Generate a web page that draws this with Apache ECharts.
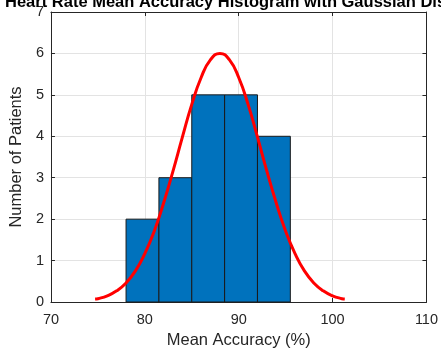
<!DOCTYPE html>
<html><head><meta charset="utf-8">
<script src="https://cdn.jsdelivr.net/npm/echarts@6/dist/echarts.min.js"></script>
<style>html,body{margin:0;padding:0;background:#fff}#c{width:441px;height:354px}</style>
</head><body><div id="c"></div>
<script>
// Histogram bins (edges) and counts
var binEdges = [78.0, 81.5, 85.0, 88.5, 92.0, 95.5];
var binCounts = [2, 3, 5, 5, 4];
// Gaussian fit curve
var curveX = [74.7, 75, 76, 77, 78, 79, 80, 81, 82, 83, 84, 85, 86, 87, 88, 89, 90, 91, 92, 93, 94, 95, 96, 97, 98, 99, 100, 101, 101.3];
var curveY = [0.07, 0.08, 0.15, 0.27, 0.46, 0.75, 1.17, 1.71, 2.39, 3.16, 3.98, 4.77, 5.42, 5.85, 6.0, 5.85, 5.42, 4.77, 3.98, 3.16, 2.39, 1.71, 1.17, 0.75, 0.46, 0.27, 0.15, 0.08, 0.07];
var xTicks = [70, 80, 90, 100, 110];
var yTicks = [0, 1, 2, 3, 4, 5, 6, 7];
var titleText = 'Heart Rate Mean Accuracy Histogram with Gaussian Distribution';
var xName = 'Mean Accuracy (%)';
var yName = 'Number of Patients';

var barData = binCounts.map(function (c, i) { return [binEdges[i], binEdges[i + 1], c]; });
var lineData = curveX.map(function (x, i) { return [x, curveY[i]]; });

var axisCol = '#262626';
var ff = 'Arial, Liberation Sans';
var chart = echarts.init(document.getElementById('c'));
chart.setOption({
  animation: false,
  title: { text: titleText, left: 254, top: -11, textAlign: 'center',
    textStyle: { fontFamily: ff, fontWeight: 'bold', fontSize: 16.5, color: '#000' } },
  grid: { left: 50, right: 10, top: 12, bottom: 52 },
  xAxis: [{
    type: 'value', min: xTicks[0], max: xTicks[xTicks.length - 1], interval: 10,
    name: xName, nameLocation: 'middle', nameGap: 29,
    nameTextStyle: { fontFamily: ff, fontSize: 16.5, color: axisCol },
    axisLine: { show: true, onZero: false, lineStyle: { color: axisCol, width: 1 } },
    axisTick: { show: true, inside: true, length: 4, lineStyle: { color: axisCol } },
    axisLabel: { margin: 10, fontFamily: ff, fontSize: 14.5, color: axisCol },
    splitLine: { show: true, lineStyle: { color: '#e3e3e3', width: 1 } }
  }, {
    type: 'value', position: 'top', min: xTicks[0], max: xTicks[xTicks.length - 1], interval: 10,
    axisLine: { show: true, onZero: false, lineStyle: { color: axisCol, width: 1 } },
    axisTick: { show: true, inside: true, length: 4, lineStyle: { color: axisCol } },
    axisLabel: { show: false }, splitLine: { show: false }
  }],
  yAxis: [{
    type: 'value', min: yTicks[0], max: yTicks[yTicks.length - 1], interval: 1,
    name: yName, nameLocation: 'middle', nameGap: 18,
    nameTextStyle: { fontFamily: ff, fontSize: 16.5, color: axisCol },
    axisLine: { show: true, onZero: false, lineStyle: { color: axisCol, width: 1 } },
    axisTick: { show: true, inside: true, length: 4, lineStyle: { color: axisCol } },
    axisLabel: { margin: 7, fontFamily: ff, fontSize: 14.5, color: axisCol },
    splitLine: { show: true, lineStyle: { color: '#e3e3e3', width: 1 } }
  }, {
    type: 'value', position: 'right', min: yTicks[0], max: yTicks[yTicks.length - 1], interval: 1,
    axisLine: { show: true, onZero: false, lineStyle: { color: axisCol, width: 1 } },
    axisTick: { show: true, inside: true, length: 4, lineStyle: { color: axisCol } },
    axisLabel: { show: false }, splitLine: { show: false }
  }],
  series: [{
    type: 'custom',
    data: barData,
    encode: { x: [0, 1], y: 2 },
    renderItem: function (params, api) {
      var p0 = api.coord([api.value(0), 0]);
      var p1 = api.coord([api.value(1), api.value(2)]);
      return {
        type: 'rect',
        shape: { x: p0[0], y: p1[1], width: p1[0] - p0[0], height: p0[1] - p1[1] },
        style: { fill: '#0072BD', stroke: '#1a1a1a', lineWidth: 1 }
      };
    },
    z: 2
  }, {
    type: 'line', data: lineData, smooth: true, showSymbol: false, symbol: 'none',
    lineStyle: { color: '#FF0000', width: 3 }, z: 3
  }]
});
</script></body></html>
